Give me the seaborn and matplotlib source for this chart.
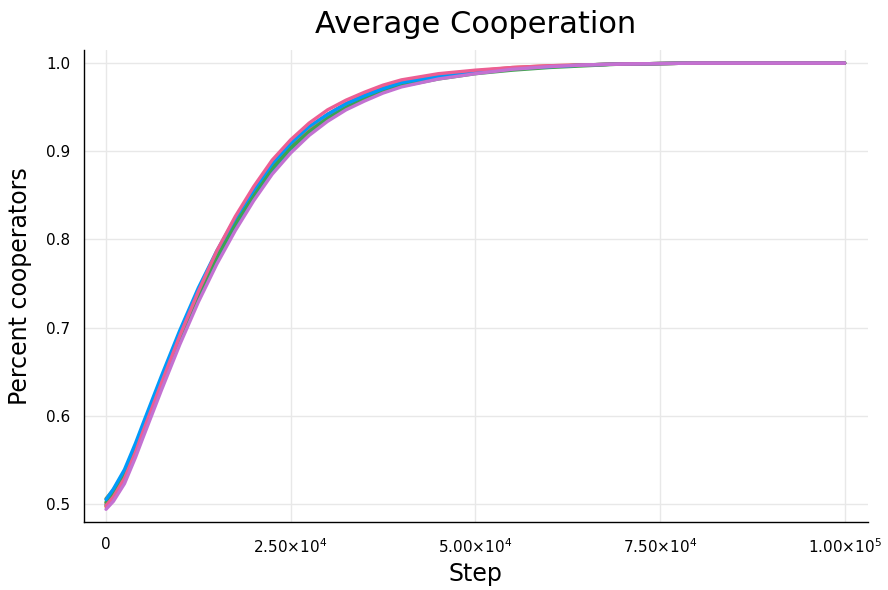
import matplotlib
matplotlib.use("Agg")
import matplotlib.pyplot as plt
import pandas as pd
import seaborn as sns

# Simulation steps sampled along the x axis
steps = [0, 1000, 2500, 4000, 5000, 7500, 10000, 12500, 15000, 17500, 20000,
         22500, 25000, 27500, 30000, 32500, 35000, 37500, 40000, 45000, 50000,
         55000, 60000, 65000, 70000, 80000, 100000]

# Percent cooperators per run
run_1 = [0.505, 0.517, 0.539, 0.569, 0.591, 0.645, 0.697, 0.745, 0.787, 0.824, 0.856,
         0.886, 0.909, 0.928, 0.942, 0.954, 0.963, 0.971, 0.978, 0.985, 0.990,
         0.994, 0.996, 0.998, 0.999, 1.000, 1.000]
run_2 = [0.501, 0.513, 0.534, 0.564, 0.586, 0.640, 0.692, 0.740, 0.783, 0.821, 0.854,
         0.884, 0.908, 0.927, 0.942, 0.954, 0.964, 0.972, 0.979, 0.987, 0.991,
         0.995, 0.997, 0.998, 0.999, 1.000, 1.000]
run_3 = [0.502, 0.512, 0.533, 0.562, 0.584, 0.638, 0.690, 0.737, 0.780, 0.818, 0.851,
         0.881, 0.904, 0.922, 0.937, 0.949, 0.959, 0.967, 0.974, 0.982, 0.988,
         0.992, 0.995, 0.997, 0.999, 1.000, 1.000]
run_4 = [0.494, 0.503, 0.523, 0.553, 0.575, 0.629, 0.681, 0.729, 0.772, 0.810, 0.844,
         0.874, 0.898, 0.918, 0.934, 0.947, 0.957, 0.966, 0.973, 0.982, 0.988,
         0.993, 0.996, 0.998, 0.999, 1.000, 1.000]
run_5 = [0.506, 0.516, 0.536, 0.565, 0.586, 0.639, 0.691, 0.739, 0.782, 0.820, 0.853,
         0.883, 0.907, 0.926, 0.941, 0.953, 0.963, 0.971, 0.978, 0.986, 0.991,
         0.994, 0.996, 0.998, 0.999, 1.000, 1.000]
run_6 = [0.499, 0.509, 0.529, 0.559, 0.581, 0.635, 0.687, 0.735, 0.778, 0.816, 0.849,
         0.879, 0.903, 0.922, 0.938, 0.950, 0.960, 0.968, 0.975, 0.984, 0.989,
         0.993, 0.996, 0.998, 0.999, 1.000, 1.000]
run_7 = [0.498, 0.508, 0.529, 0.559, 0.582, 0.637, 0.691, 0.741, 0.787, 0.826, 0.860,
         0.890, 0.913, 0.932, 0.947, 0.958, 0.967, 0.975, 0.981, 0.988, 0.992,
         0.995, 0.997, 0.998, 0.999, 1.000, 1.000]
run_8 = [0.497, 0.507, 0.527, 0.557, 0.579, 0.633, 0.685, 0.733, 0.776, 0.814, 0.847,
         0.877, 0.901, 0.920, 0.936, 0.949, 0.959, 0.968, 0.975, 0.984, 0.990,
         0.994, 0.996, 0.998, 0.999, 1.000, 1.000]

runs = [run_1, run_2, run_3, run_4, run_5, run_6, run_7, run_8]
run_names = [f"y{i + 1}" for i in range(len(runs))]
# drawing order: later runs end up on top of the band
draw_order = ["y8", "y5", "y6", "y2", "y3", "y1", "y7", "y4"]

x_ticks = [0, 25000, 50000, 75000, 100000]
x_tick_labels = ["0", "2.50×10$^{4}$", "5.00×10$^{4}$", "7.50×10$^{4}$", "1.00×10$^{5}$"]
y_ticks = [0.5, 0.6, 0.7, 0.8, 0.9, 1.0]

# Julia Plots default palette
PALETTE = {"y1": "#009AFA", "y2": "#E36F47", "y3": "#3EA44E", "y4": "#C371D2",
           "y5": "#AC8E18", "y6": "#00AAAE", "y7": "#ED5E93", "y8": "#C68225"}

df = pd.concat(
    [pd.DataFrame({"step": steps, "value": r, "run": n}) for r, n in zip(runs, run_names)],
    ignore_index=True,
)

sns.set_theme(style="white")
plt.rcParams["font.family"] = ["DejaVu Sans"]
plt.rcParams["mathtext.fontset"] = "dejavusans"
plt.rcParams["mathtext.default"] = "regular"
plt.rcParams["text.color"] = "black"
plt.rcParams["axes.labelcolor"] = "black"

fig = plt.figure(figsize=(8.88, 5.90), dpi=100)
ax = fig.add_axes([0.0946, 0.1153, 0.8824, 0.7997])

sns.lineplot(data=df, x="step", y="value", hue="run", hue_order=draw_order,
             palette=PALETTE, linewidth=2.4, legend=False, ax=ax, sort=False)

ax.set_xlim(-2977, 103110)
ax.set_ylim(0.4796, 1.0147)
ax.set_xticks(x_ticks)
ax.set_xticklabels(x_tick_labels)
ax.set_yticks(y_ticks)
ax.set_yticklabels([f"{v:.1f}" for v in y_ticks])

ax.grid(True, color="#e8e8e8", linewidth=1.0)
ax.set_axisbelow(True)
for side in ["top", "right"]:
    ax.spines[side].set_visible(False)
for side in ["left", "bottom"]:
    ax.spines[side].set_color("black")
    ax.spines[side].set_linewidth(1.0)

ax.tick_params(axis="both", direction="in", colors="black", labelsize=11, length=5, width=1)
ax.tick_params(axis="x", pad=11)
ax.tick_params(axis="y", pad=10)

ax.set_xlabel("Step", fontsize=17, labelpad=4)
ax.set_ylabel("Percent cooperators", fontsize=17, labelpad=10)
ax.set_title("Average Cooperation", fontsize=22, pad=12)

plt.savefig("out.png", dpi=100)
plt.close(fig)
